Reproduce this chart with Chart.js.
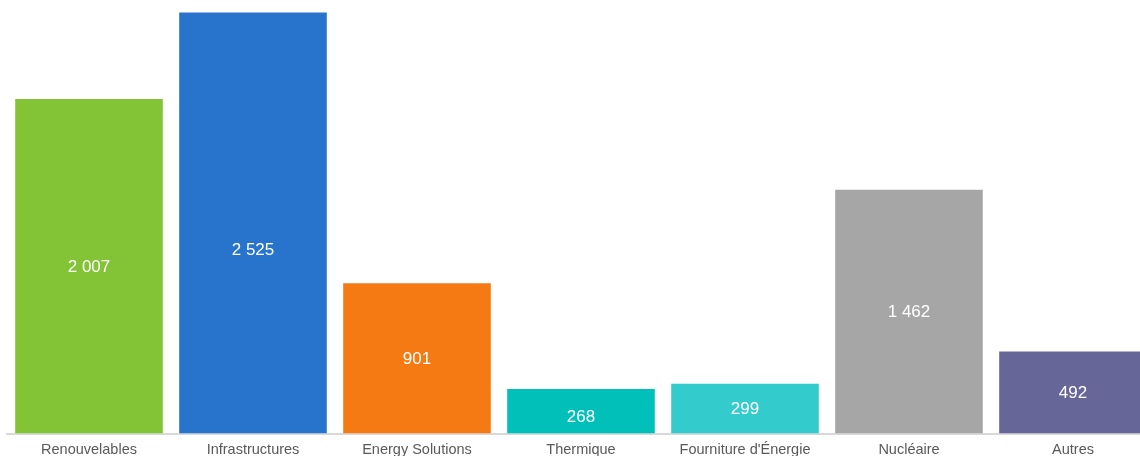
<!DOCTYPE html>
<html>
<head>
<meta charset="utf-8">
<script src="https://cdn.jsdelivr.net/npm/chart.js@4"></script>
<style>
  html, body { margin: 0; padding: 0; background: #fff; overflow: hidden; }
  #marco { width: 1140px; height: 456px; overflow: hidden; }
  #wrap { width: 1155px; height: 467px; position: relative; }
</style>
</head>
<body>
<div id="marco"><div id="wrap"><canvas id="grafico"></canvas></div></div>
<script>
const categorias = ['Renouvelables', 'Infrastructures', 'Energy Solutions', 'Thermique', "Fourniture d'Énergie", 'Nucléaire', 'Autres'];
const valores = [2007, 2525, 901, 268, 299, 1462, 492];
const colores = ['#83c436', '#2873cc', '#f67a13', '#00c0b9', '#33cbcb', '#a6a6a6', '#666699'];

// etiquetas dentro de cada barra (algunas un poco desplazadas como en el original)
const desplazamiento = { 1: 26, 3: 5 };
const etiquetas = {
  id: 'etiquetas',
  afterDatasetsDraw(chart) {
    const ctx = chart.ctx;
    const meta = chart.getDatasetMeta(0);
    ctx.save();
    ctx.fillStyle = '#ffffff';
    ctx.font = '17px "Liberation Sans", Arial, sans-serif';
    ctx.textAlign = 'center';
    ctx.textBaseline = 'middle';
    meta.data.forEach(function (bar, i) {
      let txt = valores[i].toLocaleString('fr-FR').replace(/\s/g, ' ');
      let y = (bar.y + bar.base) / 2 + 1 + (desplazamiento[i] || 0);
      ctx.fillText(txt, bar.x, y);
    });
    ctx.restore();
  }
};

new Chart(document.getElementById('grafico'), {
  type: 'bar',
  data: {
    labels: categorias,
    datasets: [{
      data: valores,
      backgroundColor: colores,
      borderWidth: 0,
      barPercentage: 0.9,
      categoryPercentage: 1
    }]
  },
  options: {
    responsive: true,
    maintainAspectRatio: false,
    animation: false,
    layout: { padding: { left: 7, right: 0, top: 0, bottom: 0 } },
    plugins: { legend: { display: false }, tooltip: { enabled: false } },
    scales: {
      x: {
        grid: { display: false, drawTicks: false },
        border: { color: '#d9d9d9', width: 2 },
        ticks: { color: '#595959', padding: 8, font: { family: '"Liberation Sans", Arial, sans-serif', size: 14.5 } }
      },
      y: {
        display: false,
        beginAtZero: true,
        max: 2600
      }
    }
  },
  plugins: [etiquetas]
});
</script>
</body>
</html>
